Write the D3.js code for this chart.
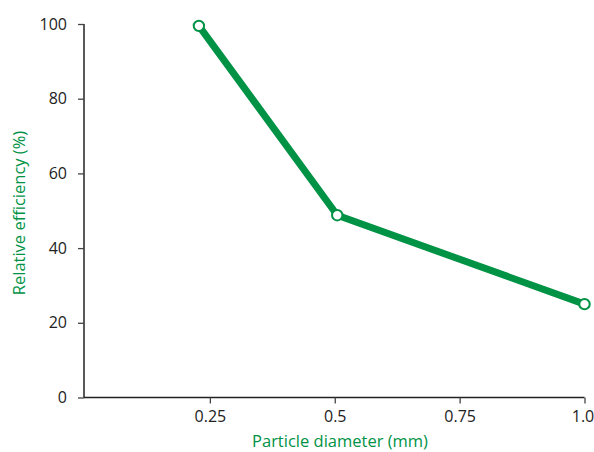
<!DOCTYPE html>
<html><head><meta charset="utf-8">
<script src="https://cdn.jsdelivr.net/npm/d3@7"></script>
<style>body{margin:0;background:#fff}svg{display:block}text{font-family:"Open Sans",sans-serif}</style>
</head><body><svg id="c" width="594" height="452"></svg>
<script>
const diameters = [0.228, 0.505, 1.0];
const efficiency = [99.5, 48.8, 25.0];
const xTicks = [0.25, 0.5, 0.75, 1.0];
const xTickLabels = ["0.25", "0.5", "0.75", "1.0"];
const yTicks = [0, 20, 40, 60, 80, 100];
const green = "#009245";

const svg = d3.select("#c");
const x = d3.scaleLinear().domain([0, 1]).range([85, 584.5]);
const y = d3.scaleLinear().domain([0, 100]).range([397.5, 24]);

const xAxis = svg.append("g").attr("transform", "translate(0,397.5)")
  .call(d3.axisBottom(x).tickValues(xTicks).tickFormat((d,i)=>xTickLabels[i]).tickSize(6).tickSizeOuter(0).tickPadding(7));
xAxis.select(".domain").attr("d", `M83.8,0H${x(1)}`);
xAxis.selectAll(".tick text").filter(d=>d===1).attr("dx", -2);
const yAxis = svg.append("g").attr("transform", "translate(84,0)")
  .call(d3.axisLeft(y).tickValues(yTicks).tickSize(6).tickSizeOuter(0).tickPadding(11));
yAxis.select(".domain").attr("d", `M0,${y(100)}V${y(0)}`);
svg.selectAll(".domain").attr("stroke", "#222").attr("stroke-width", 1.5);
svg.selectAll(".tick line").attr("stroke", "#444").attr("stroke-width", 1.3);
svg.selectAll(".tick text").attr("fill", "#222").attr("font-size", 16).style("font-size", "16px").style("font-family", "'Open Sans',sans-serif");

const data = diameters.map((d,i)=>({x:d, y:efficiency[i]}));
svg.append("path").datum(data)
  .attr("fill", "none").attr("stroke", green).attr("stroke-width", 7).attr("stroke-linejoin", "round")
  .attr("d", d3.line().x(d=>x(d.x)).y(d=>y(d.y)));
svg.selectAll("circle.pt").data(data).join("circle").attr("class","pt")
  .attr("cx", d=>x(d.x)).attr("cy", d=>y(d.y)).attr("r", 5.2)
  .attr("fill", "#fff").attr("stroke", green).attr("stroke-width", 2);

svg.append("text").attr("x", 340).attr("y", 447).attr("text-anchor", "middle")
  .attr("fill", green).style("font-size", "16.5px").text("Particle diameter (mm)");
svg.append("text").attr("transform", "translate(25,213) rotate(-90)").attr("text-anchor", "middle")
  .attr("fill", green).style("font-size", "16.5px").text("Relative efficiency (%)");
</script></body></html>
